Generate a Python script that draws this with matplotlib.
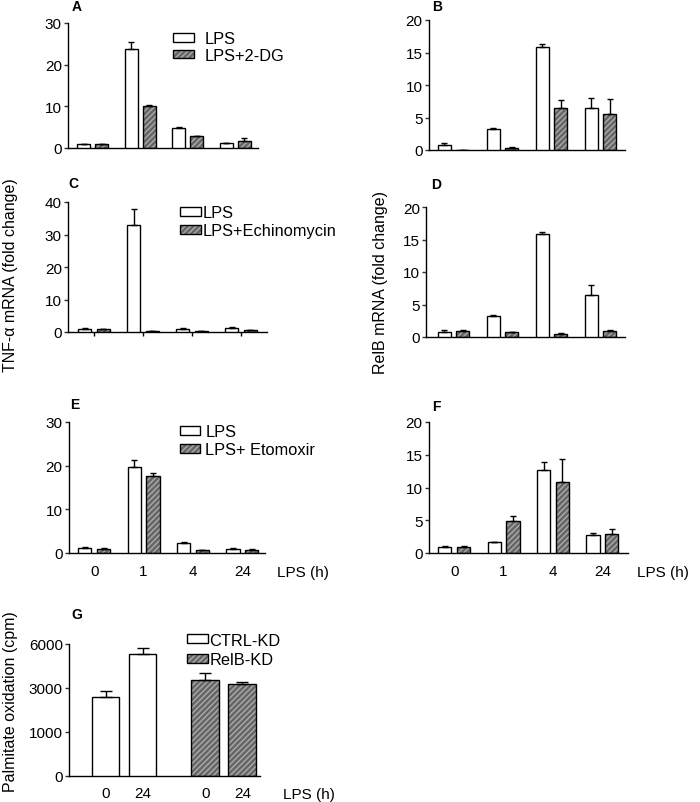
import numpy as np
import matplotlib
matplotlib.use("Agg")
import matplotlib.pyplot as plt
from matplotlib.patches import Patch
from matplotlib.legend_handler import HandlerTuple

plt.rcParams['font.family'] = ['Liberation Sans', 'DejaVu Sans']
plt.rcParams['font.size'] = 8

# ---- data ----
times = ['0', '1', '4', '24']

a_lps = [0.9, 23.8, 4.9, 1.1]
a_lps_err = [0.1, 1.6, 0.2, 0.2]
a_2dg = [0.9, 10.2, 2.8, 1.8]
a_2dg_err = [0.05, 0.1, 0.05, 0.5]

b_lps = [0.8, 3.3, 15.9, 6.5]
b_lps_err = [0.27, 0.02, 0.4, 1.5]
b_2dg = [0.05, 0.35, 6.4, 5.6]
b_2dg_err = [0.0, 0.05, 1.3, 2.2]

c_lps = [1.0, 33.0, 1.0, 1.3]
c_lps_err = [0.1, 4.7, 0.1, 0.1]
c_echi = [1.0, 0.3, 0.3, 0.5]
c_echi_err = [0.05, 0.05, 0.05, 0.1]

d_lps = [0.82, 3.3, 15.8, 6.5]
d_lps_err = [0.3, 0.03, 0.4, 1.5]
d_echi = [1.0, 0.75, 0.5, 1.0]
d_echi_err = [0.03, 0.05, 0.1, 0.03]

e_lps = [1.15, 19.6, 2.3, 1.0]
e_lps_err = [0.3, 1.8, 0.2, 0.1]
e_eto = [1.0, 17.6, 0.7, 0.8]
e_eto_err = [0.05, 0.8, 0.1, 0.05]

f_lps = [0.97, 1.7, 12.7, 2.75]
f_lps_err = [0.05, 0.02, 1.2, 0.25]
f_eto = [0.97, 4.9, 10.9, 2.9]
f_eto_err = [0.05, 0.8, 3.4, 0.7]

g_times = ['0', '24', '0', '24']
g_pos = [0, 1, 2.7, 3.7]
g_vals = [2580, 5320, 3545, 3273]
g_err = [300, 385, 480, 160]
g_ticks = [0, 1000, 3000, 6000]

HATCH_FC = '#666666'
HATCH_HC = '#ababab'
TICK_FS = 11
LEG_FS = 11.8

fig = plt.figure(figsize=(7.0, 8.03), dpi=100)
W, H = 700.0, 803.0


def make_ax(l, r, t, b):
    ax = fig.add_axes([l / W, 1 - b / H, (r - l) / W, (b - t) / H])
    ax.spines['top'].set_visible(False)
    ax.spines['right'].set_visible(False)
    ax.spines['left'].set_linewidth(1.0)
    ax.spines['bottom'].set_linewidth(1.0)
    ax.tick_params(axis='y', length=3, width=1, pad=1.5, labelsize=TICK_FS, color='#333333')
    ax.tick_params(axis='x', length=0, labelsize=TICK_FS)
    return ax


def hatched_bar(ax, x, h, w):
    ax.bar(x, h, w, color=HATCH_FC, edgecolor=HATCH_HC, hatch='//////', linewidth=0, zorder=2)
    ax.bar(x, h, w, fill=False, edgecolor='black', linewidth=1.0, zorder=3)


def white_bar(ax, x, h, w):
    ax.bar(x, h, w, color='white', edgecolor='black', linewidth=1.0, zorder=3)


def errs(ax, x, h, e, cap=2.5):
    e = np.asarray(e, dtype=float)
    ax.errorbar(x, h, yerr=[np.zeros_like(e), e], fmt='none', ecolor='black',
                elinewidth=1.0, capsize=cap, capthick=1.0, zorder=4)


def legend(ax, labels, anchor, tpad, lsp=0.2):
    white = Patch(facecolor='white', edgecolor='black', linewidth=1.0)
    hat = (Patch(facecolor=HATCH_FC, edgecolor=HATCH_HC, hatch='//////', linewidth=0),
           Patch(fill=False, edgecolor='black', linewidth=1.0))
    ax.legend([white, hat], labels, handler_map={tuple: HandlerTuple(ndivide=1)},
              loc='upper left', bbox_to_anchor=anchor, frameon=False, fontsize=LEG_FS,
              handlelength=1.25, handleheight=0.45, handletextpad=tpad,
              labelspacing=lsp, borderpad=0, borderaxespad=0)


def pair_panel(ax, lps, lps_err, trt, trt_err, ymax, step, xlim):
    x = np.arange(len(times))
    w, off = 0.27, 0.19
    white_bar(ax, x - off, lps, w)
    errs(ax, x - off, lps, lps_err)
    hatched_bar(ax, x + off, trt, w)
    errs(ax, x + off, trt, trt_err)
    ax.set_ylim(0, ymax)
    ax.set_yticks(np.arange(0, ymax + 1, step))
    ax.set_xlim(*xlim)
    ax.set_xticks([])
    return x


# A
axA = make_ax(68, 258, 24, 149)
pair_panel(axA, a_lps, a_lps_err, a_2dg, a_2dg_err, 30, 10, (-0.52, 3.48))
legend(axA, ['LPS', 'LPS+2-DG'], (0.553, 0.935), 0.67, lsp=0.1)

# B
axB = make_ax(429, 625, 21, 151)
pair_panel(axB, b_lps, b_lps_err, b_2dg, b_2dg_err, 20, 5, (-0.5, 3.5))

# C
axC = make_ax(68, 267, 203, 333)
xc = pair_panel(axC, c_lps, c_lps_err, c_echi, c_echi_err, 40, 10, (-0.53, 3.53))
axC.set_xticks(xc)
axC.set_xticklabels([])
axC.tick_params(axis='x', length=3, width=1, direction='out')
legend(axC, ['LPS', 'LPS+Echinomycin'], (0.563, 0.977), 0.12)

# D
axD = make_ax(426, 625, 208, 338)
pair_panel(axD, d_lps, d_lps_err, d_echi, d_echi_err, 20, 5, (-0.56, 3.5))

# E
axE = make_ax(69, 265, 423, 554)
xe = pair_panel(axE, e_lps, e_lps_err, e_eto, e_eto_err, 30, 10, (-0.51, 3.46))
axE.set_xticks(xe)
axE.set_xticklabels(times)
axE.tick_params(axis='x', length=0, pad=8)
legend(axE, ['LPS', 'LPS+ Etomoxir'], (0.566, 0.985), 0.3)
axE.text(1.06, -0.145, 'LPS (h)', transform=axE.transAxes, fontsize=TICK_FS, va='center', ha='left')

# F
axF = make_ax(429, 628, 423, 554)
xf = pair_panel(axF, f_lps, f_lps_err, f_eto, f_eto_err, 20, 5, (-0.51, 3.52))
axF.set_xticks(xf)
axF.set_xticklabels(times)
axF.tick_params(axis='x', length=0, pad=8)
axF.text(1.045, -0.145, 'LPS (h)', transform=axF.transAxes, fontsize=TICK_FS, va='center', ha='left')

# G  (axis with evenly spaced 0/1000/3000/6000 ticks, piecewise linear)
axG = make_ax(69, 260, 645, 777)
seg_v = [0, 1, 2, 3]


def fwd(y):
    y = np.asarray(y, dtype=float)
    out = np.interp(y, g_ticks, seg_v)
    out = np.where(y > 6000, 3 + (y - 6000) / 3000.0, out)
    out = np.where(y < 0, y / 1000.0, out)
    return out


def inv(v):
    v = np.asarray(v, dtype=float)
    out = np.interp(v, seg_v, g_ticks)
    out = np.where(v > 3, 6000 + (v - 3) * 3000.0, out)
    out = np.where(v < 0, v * 1000.0, out)
    return out


axG.set_yscale('function', functions=(fwd, inv))
gw = 0.75
for i in range(2):
    white_bar(axG, g_pos[i], g_vals[i], gw)
for i in range(2, 4):
    hatched_bar(axG, g_pos[i], g_vals[i], gw)
errs(axG, g_pos, g_vals, g_err, cap=4)
axG.set_ylim(0, 6000)
axG.set_yticks(g_ticks)
axG.set_yticklabels([str(t) for t in g_ticks])
axG.minorticks_off()
axG.set_xlim(-0.99, 4.18)
axG.set_xticks(g_pos)
axG.set_xticklabels(g_times)
axG.tick_params(axis='x', length=0, pad=7)
axG.text(1.12, -0.14, 'LPS (h)', transform=axG.transAxes, fontsize=TICK_FS, va='center', ha='left')
legend(axG, ['CTRL-KD', 'RelB-KD'], (0.618, 1.087), 0.12, lsp=0.3)

# y axis titles
fig.text(11 / W, 1 - 275 / H, 'TNF-\u03b1 mRNA (fold change)', rotation=90,
         fontsize=11.5, ha='center', va='center')
fig.text(381 / W, 1 - 283 / H, 'RelB mRNA (fold change)', rotation=90,
         fontsize=11.5, ha='center', va='center')
fig.text(11 / W, 1 - 702 / H, 'Palmitate oxidation (cpm)', rotation=90,
         fontsize=11.5, ha='center', va='center')

# panel letters
for lab, x, y in [('A', 77, 7), ('B', 437, 7), ('C', 73, 184), ('D', 436, 185),
                  ('E', 75, 405), ('F', 436, 407), ('G', 77, 615)]:
    fig.text(x / W, 1 - y / H, lab, fontsize=10, fontweight='bold', ha='center', va='center')

fig.savefig('out.png', dpi=100)
